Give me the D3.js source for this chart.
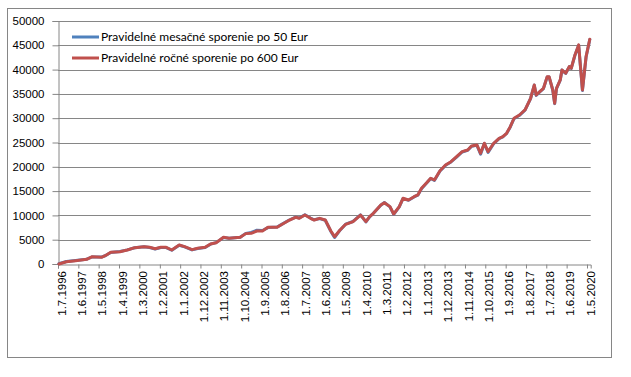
<!DOCTYPE html>
<html>
<head>
<meta charset="utf-8">
<script src="https://cdn.jsdelivr.net/npm/d3@7"></script>
<style>
  body { margin: 0; background: #fff; }
</style>
</head>
<body>
<svg id="chart" width="631" height="377"></svg>
<script>
// months (points where the curve changes direction)
var months = ["1996-07","1996-11","1997-04","1997-10","1998-01","1998-06","1998-08","1998-11","1999-04","1999-08",
  "1999-12","2000-05","2000-08","2000-11","2001-02","2001-05","2001-08","2001-12","2002-03","2002-07",
  "2002-10","2003-02","2003-05","2003-08","2003-12","2004-03","2004-09","2004-12","2005-03","2005-06",
  "2005-09","2005-12","2006-05","2006-07","2006-11","2007-03","2007-05","2007-08","2007-11","2008-01",
  "2008-04","2008-07","2008-10","2008-12","2009-03","2009-06","2009-10","2010-02","2010-05","2010-07",
  "2010-09","2011-01","2011-03","2011-06","2011-08","2011-11","2012-01","2012-04","2012-07","2012-09",
  "2012-11","2013-02","2013-04","2013-06","2013-09","2013-12","2014-03","2014-06","2014-09","2014-12",
  "2015-02","2015-05","2015-07","2015-09","2015-11","2016-02","2016-05","2016-07","2016-09","2016-11",
  "2017-01","2017-04","2017-07","2017-10","2017-12","2018-01","2018-03","2018-05","2018-07","2018-08",
  "2018-10","2018-11","2018-12","2019-02","2019-03","2019-05","2019-07","2019-08","2019-10","2019-12",
  "2020-02","2020-04","2020-06"];

var monthlySaving = [50,520,720,1000,1450,1420,1700,2380,2560,2900,
  3330,3560,3400,3100,3400,3380,2850,3850,3520,2900,
  3200,3400,4080,4400,5450,5300,5500,6300,6500,6950,
  6900,7500,7600,8050,8950,9650,9450,10150,9450,9100,
  9350,9000,6700,5450,6950,8200,8750,10100,8650,9700,
  10450,12100,12650,11750,10200,11750,13450,13100,13800,14150,
  15500,16750,17600,17200,19150,20300,21000,22000,23050,23400,
  24200,24450,22600,24800,22950,24750,25800,26150,26850,28200,
  29900,30600,31650,34050,36800,34700,35400,36100,38500,38500,
  35750,33000,36100,37850,39900,39200,40600,40250,42950,45000,
  35700,42600,46200];

var yearlySaving = [0,470,680,970,1500,1380,1710,2400,2530,2880,
  3360,3570,3430,3150,3430,3430,2880,3910,3570,2950,
  3230,3430,4120,4380,5490,5290,5490,6250,6320,6790,
  6790,7550,7550,8030,8910,9610,9400,10080,9400,9050,
  9400,9050,6790,5620,7000,8170,8710,10080,8710,9740,
  10430,12140,12620,11800,10290,11800,13520,13170,13850,14200,
  15580,16810,17640,17290,19200,20370,21050,22080,23110,23460,
  24280,24490,22780,24840,23110,24840,25870,26200,26900,28260,
  29990,30660,31690,34100,36840,34780,35460,36150,38550,38550,
  35810,33070,36150,37870,39930,39250,40620,40280,43020,45080,
  35810,42660,46240];

var seriesNames = ["Pravidelné mesačné sporenie po 50 Eur", "Pravidelné ročné sporenie po 600 Eur"];
var seriesColors = ["#4f81bd", "#c0504d"];

var yTicks = [0,5000,10000,15000,20000,25000,30000,35000,40000,45000,50000];
var xTickLabels = ["1.7.1996","1.6.1997","1.5.1998","1.4.1999","1.3.2000","1.2.2001","1.1.2002","1.12.2002",
  "1.11.2003","1.10.2004","1.9.2005","1.8.2006","1.7.2007","1.6.2008","1.5.2009","1.4.2010","1.3.2011",
  "1.2.2012","1.1.2013","1.12.2013","1.11.2014","1.10.2015","1.9.2016","1.8.2017","1.7.2018","1.6.2019","1.5.2020"];

(function () {
  var parseMonth = d3.timeParse("%Y-%m");
  var parseLabel = d3.timeParse("%d.%m.%Y");

  var plotLeft = 58, plotRight = 590.7, plotTop = 21, plotBottom = 264;
  var gridColor = "#868686";

  var svg = d3.select("#chart");

  svg.append("rect")
    .attr("x", 7.5).attr("y", 8.5)
    .attr("width", 604).attr("height", 349)
    .attr("fill", "#fff")
    .attr("stroke", gridColor);

  var x = d3.scaleTime()
    .domain([new Date(1996, 6, 1), new Date(2020, 6, 1)])
    .range([plotLeft, plotRight]);
  var y = d3.scaleLinear()
    .domain([0, 50000])
    .range([plotBottom, plotTop]);

  // gridlines
  svg.append("g")
    .selectAll("line")
    .data(yTicks.slice(1))
    .enter()
    .append("line")
    .attr("x1", plotLeft).attr("x2", plotRight)
    .attr("y1", function (d) { return Math.round(y(d)) + 0.5; })
    .attr("y2", function (d) { return Math.round(y(d)) + 0.5; })
    .attr("stroke", gridColor);

  // y axis
  var yAxis = d3.axisLeft(y)
    .tickValues(yTicks)
    .tickFormat(d3.format("d"))
    .tickSize(6)
    .tickPadding(8);
  var gy = svg.append("g")
    .attr("transform", "translate(" + (plotLeft + 0.5) + ",0)")
    .call(yAxis);
  gy.select(".domain").attr("stroke", gridColor);
  gy.selectAll(".tick line").attr("stroke", gridColor);
  gy.selectAll(".tick text")
    .style("font-family", "'Liberation Sans', Arial, sans-serif")
    .style("font-size", "11.5px")
    .attr("fill", "#000");

  // x axis
  var xTickDates = xTickLabels.map(function (s) { return parseLabel(s); });
  var xAxis = d3.axisBottom(x).tickValues(xTickDates).tickSize(4).tickFormat("");
  var gx = svg.append("g")
    .attr("transform", "translate(0," + (plotBottom + 0.5) + ")")
    .call(xAxis);
  gx.select(".domain").attr("stroke", gridColor);
  gx.selectAll(".tick line").attr("stroke", gridColor);

  svg.append("g")
    .selectAll("text")
    .data(xTickLabels)
    .enter()
    .append("text")
    .attr("transform", function (d, i) {
      return "translate(" + (x(xTickDates[i]) + 3.5) + "," + (plotBottom + 7) + ")rotate(-90)";
    })
    .attr("text-anchor", "end")
    .attr("dy", "0.35em")
    .style("font-family", "'Liberation Sans', Arial, sans-serif")
    .style("font-size", "11.5px")
    .text(function (d) { return d; });

  // lines
  var line = d3.line()
    .x(function (d) { return x(d3.timeDay.offset(d.date, 15)); })
    .y(function (d) { return y(d.value); });

  [monthlySaving, yearlySaving].forEach(function (values, k) {
    var pts = months.map(function (m, i) { return { date: parseMonth(m), value: values[i] }; });
    svg.append("path")
      .datum(pts)
      .attr("fill", "none")
      .attr("stroke", seriesColors[k])
      .attr("stroke-width", 3)
      .attr("stroke-linejoin", "round")
      .attr("stroke-linecap", "round")
      .attr("d", line);
  });

  // legend
  var legend = svg.append("g")
    .selectAll("g")
    .data(seriesNames)
    .enter()
    .append("g")
    .attr("transform", function (d, i) { return "translate(72," + (37 + i * 21) + ")"; });
  legend.append("line")
    .attr("x1", 0).attr("x2", 27)
    .attr("stroke", function (d, i) { return seriesColors[i]; })
    .attr("stroke-width", 3);
  legend.append("text")
    .attr("x", 29)
    .attr("dy", "0.35em")
    .style("font-family", "Lato, sans-serif")
    .style("font-size", "12px")
    .text(function (d) { return d; });
})();
</script>
</body>
</html>
